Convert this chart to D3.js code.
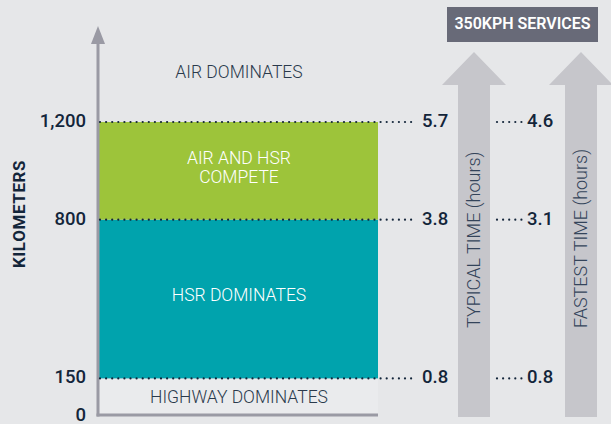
<!DOCTYPE html>
<html>
<head>
<meta charset="utf-8">
<script src="https://cdn.jsdelivr.net/npm/d3@7"></script>
<style>
  body { margin: 0; background: #e6e7e9; }
  svg { display: block; font-family: Roboto, "DejaVu Sans", sans-serif; }
  .tick-label { font-size: 18.5px; font-weight: 500; fill: #13253a; }
  .zone { font-size: 17.5px; font-weight: 300; }
</style>
</head>
<body>
<div id="chart"></div>
<script>
// distance thresholds (km) and which mode wins in each band
var kmTicks = [0, 150, 800, 1200];
var zoneNames = ["HIGHWAY DOMINATES", "HSR DOMINATES", "AIR AND HSR COMPETE", "AIR DOMINATES"];
var zoneColors = ["#eaebed", "#00a3ad", "#9dc43a", "none"];
var typicalHours = [0.8, 3.8, 5.7];   // at 150, 800, 1200 km
var fastestHours = [0.8, 3.1, 4.6];

var width = 611, height = 424;
var left = 98, right = 378;

var svg = d3.select("#chart").append("svg")
  .attr("width", width)
  .attr("height", height);

var y = d3.scaleLinear().domain([0, 1200]).range([415, 122]);
var yTop = 26;

// zone bands
var bands = zoneNames.map(function(name, i) {
  return { name: name, lo: kmTicks[i], hi: i < 3 ? kmTicks[i + 1] : null, color: zoneColors[i] };
});

svg.append("g").selectAll("rect")
  .data(bands.filter(function(d) { return d.hi !== null; }))
  .enter().append("rect")
  .attr("x", left)
  .attr("width", right - left)
  .attr("y", function(d) { return y(d.hi); })
  .attr("height", function(d) { return y(d.lo) - y(d.hi); })
  .attr("fill", function(d) { return d.color; });

// zone labels
var labelY = {
  "HIGHWAY DOMINATES": [398],
  "HSR DOMINATES": [296],
  "AIR AND HSR COMPETE": [159, 178],
  "AIR DOMINATES": [73]
};
var labelLines = {
  "AIR AND HSR COMPETE": ["AIR AND HSR", "COMPETE"]
};
bands.forEach(function(d) {
  var lines = labelLines[d.name] || [d.name];
  lines.forEach(function(line, j) {
    svg.append("text")
      .attr("class", "zone")
      .attr("x", (left + right) / 2 + 1)
      .attr("y", labelY[d.name][j])
      .attr("text-anchor", "middle")
      .attr("dominant-baseline", "middle")
      .attr("fill", d.color === "#00a3ad" || d.color === "#9dc43a" ? "#ffffff" : "#2a3a4c")
      .text(line);
  });
});

// axes
svg.append("line")
  .attr("x1", left).attr("x2", left)
  .attr("y1", y(0) + 1.5).attr("y2", yTop + 14)
  .attr("stroke", "#9a9aa4").attr("stroke-width", 3);
svg.append("path")
  .attr("d", "M" + (left - 7) + "," + (yTop + 18) + "L" + left + "," + yTop + "L" + (left + 7) + "," + (yTop + 18) + "Z")
  .attr("fill", "#9a9aa4");
svg.append("line")
  .attr("x1", left - 1.5).attr("x2", right)
  .attr("y1", y(0)).attr("y2", y(0))
  .attr("stroke", "#9a9aa4").attr("stroke-width", 3);

svg.append("g").selectAll("text")
  .data(kmTicks)
  .enter().append("text")
  .attr("class", "tick-label")
  .attr("x", 86)
  .attr("y", function(d) { return d === 0 ? y(d) + 1 : y(d); })
  .attr("text-anchor", "end")
  .attr("dominant-baseline", "middle")
  .text(function(d) { return d3.format(",")(d); });

svg.append("text")
  .attr("transform", "translate(21," + 214 + ") rotate(-90)")
  .attr("text-anchor", "middle")
  .attr("dominant-baseline", "middle")
  .attr("font-size", 17)
  .attr("font-weight", 700)
  .attr("letter-spacing", 0.6)
  .attr("fill", "#13253a")
  .text("KILOMETERS");

// travel time arrows
var arrows = [
  { cx: 474, label: "TYPICAL TIME (hours)" },
  { cx: 581, label: "FASTEST TIME (hours)" }
];
arrows.forEach(function(a) {
  svg.append("path")
    .attr("d", "M" + (a.cx - 16) + "," + 417 + "V85H" + (a.cx - 32) + "L" + a.cx + ",52L" + (a.cx + 32) + ",85H" + (a.cx + 16) + "V417Z")
    .attr("fill", "#c6c6cb");
  svg.append("text")
    .attr("transform", "translate(" + (a.cx + 1) + ",328) rotate(-90)")
    .attr("text-anchor", "start")
    .attr("dominant-baseline", "middle")
    .attr("font-size", 18)
    .attr("font-weight", 300)
    .attr("fill", "#34445a")
    .text(a.label);
});

// dotted guides and hour labels
var guideKm = kmTicks.slice(1);
var dots = svg.append("g").attr("fill", "#13253a");
guideKm.forEach(function(km, i) {
  d3.range(left + 2, 414, 6.1).forEach(function(x) {
    dots.append("circle").attr("cx", x).attr("cy", y(km)).attr("r", 1.1);
  });
  d3.range(497, 522, 6.1).forEach(function(x) {
    dots.append("circle").attr("cx", x).attr("cy", y(km)).attr("r", 1.1);
  });
  svg.append("text")
    .attr("class", "tick-label")
    .attr("x", 422)
    .attr("y", y(km))
    .attr("dominant-baseline", "middle")
    .text(d3.format(".1f")(typicalHours[i]));
  svg.append("text")
    .attr("class", "tick-label")
    .attr("x", 527)
    .attr("y", y(km))
    .attr("dominant-baseline", "middle")
    .text(d3.format(".1f")(fastestHours[i]));
});

// header box
svg.append("rect")
  .attr("x", 447).attr("y", 7)
  .attr("width", 151).attr("height", 35)
  .attr("fill", "#686a78");
svg.append("text")
  .attr("x", 522.5).attr("y", 25)
  .attr("text-anchor", "middle")
  .attr("dominant-baseline", "middle")
  .attr("font-size", 16)
  .attr("font-weight", 600)
  .attr("fill", "#ffffff")
  .text("350KPH SERVICES");
</script>
</body>
</html>
